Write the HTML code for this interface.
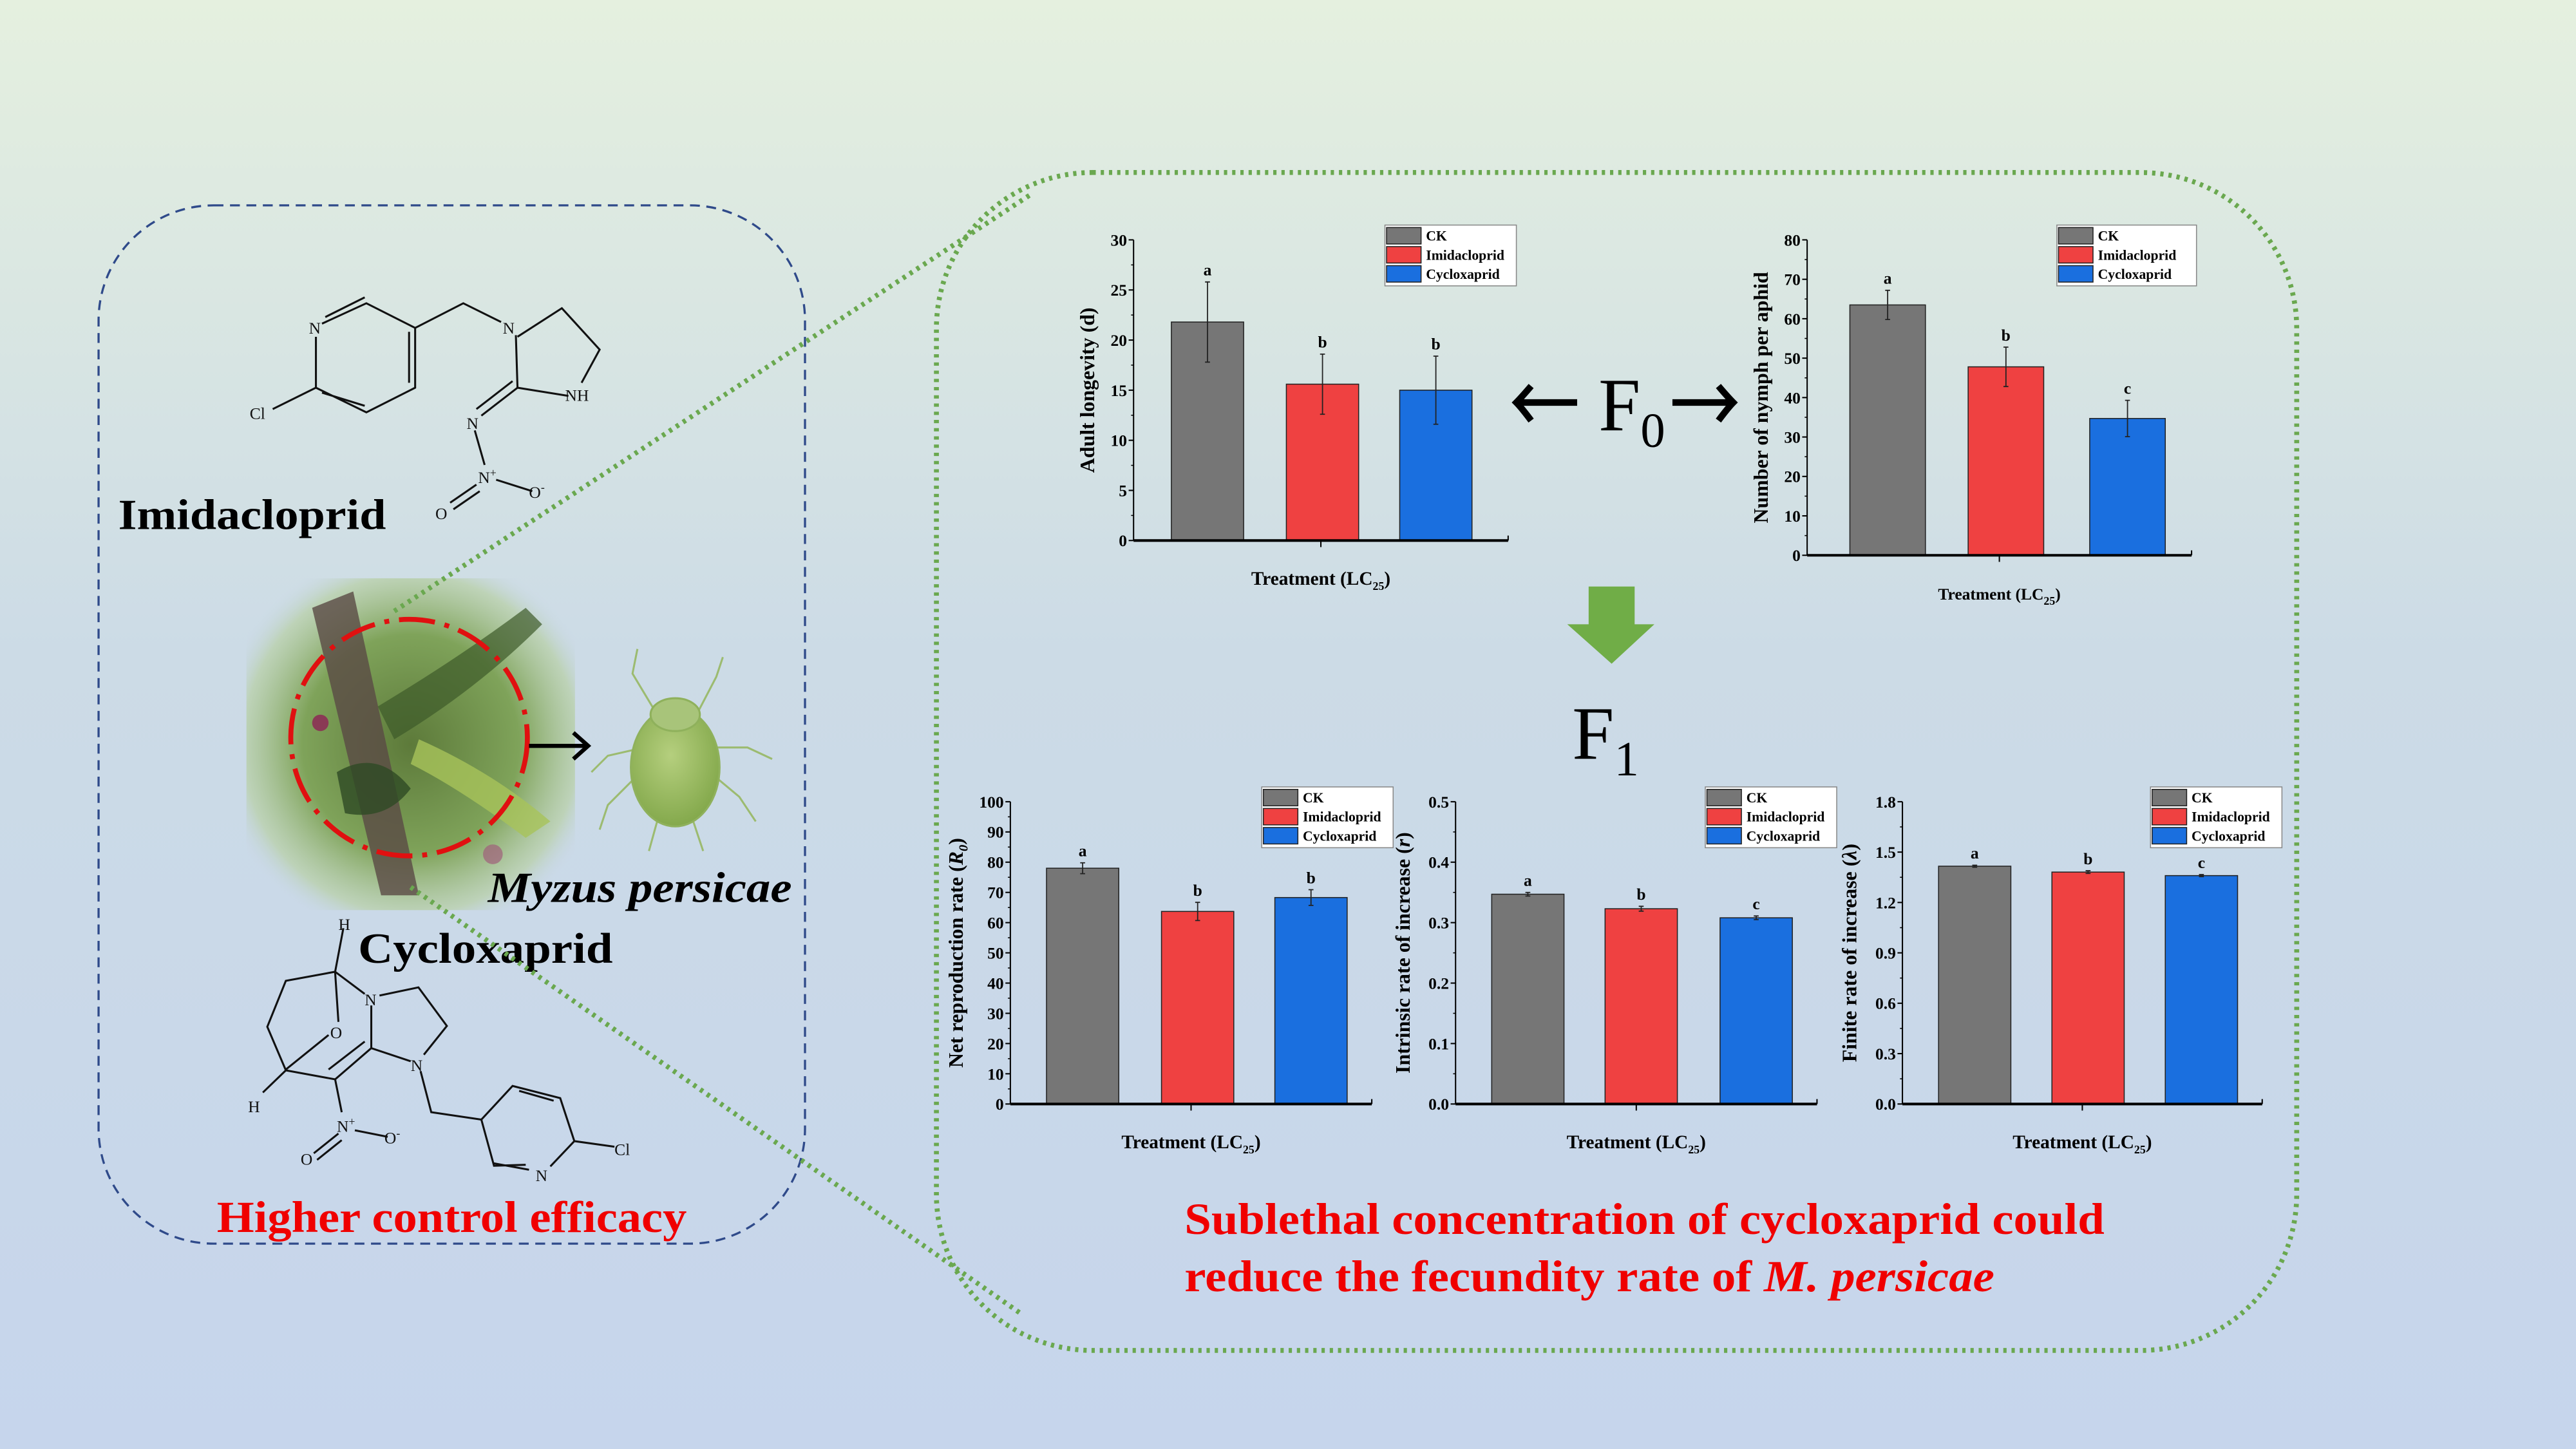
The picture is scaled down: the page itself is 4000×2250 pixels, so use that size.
<!DOCTYPE html>
<html><head><meta charset="utf-8"><style>
html,body{margin:0;padding:0;width:4000px;height:2250px;overflow:hidden}
svg{display:block}
text{font-family:"Liberation Serif",serif}
</style></head><body>
<svg id="root" width="4000" height="2250" viewBox="0 0 1568 882" preserveAspectRatio="none" xmlns="http://www.w3.org/2000/svg">
<defs>
<linearGradient id="bg" x1="0" y1="0" x2="0" y2="1">
<stop offset="0" stop-color="#e5f0df"/><stop offset="0.45" stop-color="#ccdbe6"/><stop offset="1" stop-color="#c6d5ec"/></linearGradient>
<radialGradient id="photo" cx="0.5" cy="0.5" r="0.6">
<stop offset="0" stop-color="#5d7a3a"/><stop offset="0.55" stop-color="#7fa35a"/><stop offset="0.85" stop-color="#b7cfa4" stop-opacity="0.7"/><stop offset="1" stop-color="#c8d6ea" stop-opacity="0"/></radialGradient>
<radialGradient id="aph" cx="0.45" cy="0.4" r="0.6"><stop offset="0" stop-color="#b5cf7e"/><stop offset="1" stop-color="#84a94c"/></radialGradient>
</defs>
<rect x="0" y="0" width="1568" height="882" fill="url(#bg)"/>

<g>
<rect x="60" y="125" width="430" height="632" rx="70" fill="none" stroke="#2f4a8a" stroke-width="1.3" stroke-dasharray="6,4"/>
<g stroke="#111" stroke-width="1.2" fill="none">
<path d="M196,197 L223,184.6 L252.7,199.6 L252.7,236 L223,251 L192.3,236 L192.3,205 M198,193 L222,181 M249,202 L249,233 M196,239 L222,247 M192.3,236 L166,249 M252.7,199.6 L282,184.6 L305,196 M314,204 L315,236 L346,241 M315,205 L342,187.6 L365,212.8 L354,233 M315,236 L293,253 M312,232 L290,249 M289,262 L295,283 M302,292 L324,299 M290,295 L274,306 M292,299 L276,310"/>
</g>
<g font-size="10" fill="#111" style="font-family:'Liberation Sans',sans-serif">
<text x="188" y="203">N</text><text x="152" y="255">Cl</text><text x="306" y="203">N</text><text x="344" y="244">NH</text><text x="284" y="261">N</text><text x="291" y="294">N<tspan font-size="7" dy="-4">+</tspan></text><text x="322" y="303">O<tspan font-size="7" dy="-4">-</tspan></text><text x="265" y="316">O</text>
</g>
<text x="72" y="322" font-size="26" font-weight="bold" textLength="163" lengthAdjust="spacingAndGlyphs" fill="#000">Imidacloprid</text>

<g>
<rect x="150" y="352" width="200" height="202" fill="url(#photo)"/>
<path d="M190,370 L232,545 L255,545 L215,360 Z" fill="#5a4a45" opacity="0.8"/>
<path d="M230,430 Q280,400 320,370 L330,380 Q290,420 240,450 Z" fill="#3d5a2a" opacity="0.7"/>
<path d="M255,450 Q300,470 335,500 L320,510 Q280,480 250,465 Z" fill="#a8c35a" opacity="0.8"/>
<path d="M205,470 Q230,455 250,480 Q235,500 210,495 Z" fill="#2e4a24" opacity="0.8"/>
<circle cx="195" cy="440" r="5" fill="#8a3a55"/><circle cx="300" cy="520" r="6" fill="#a0607a" opacity="0.7"/>
</g>
<circle cx="249" cy="449" r="72" fill="none" stroke="#e01010" stroke-width="3" stroke-dasharray="22,6,3,6"/>
<g stroke="#000" stroke-width="2.5" fill="none"><path d="M322,454 L357,454 M349,446 L358,454 L349,462"/></g>
<g stroke="#9cbb70" stroke-width="1.2" fill="none">
<path d="M400,435 L385,410 L388,395 M424,435 L436,412 L440,400 M390,470 L370,490 L365,505 M432,470 L450,485 L460,500 M392,455 L370,460 L360,470 M430,455 L455,455 L470,462 M400,500 L395,518 M422,500 L428,518"/>
<ellipse cx="411" cy="467" rx="27" ry="36" fill="url(#aph)" stroke="#8fb15c"/>
<ellipse cx="411" cy="435" rx="15" ry="10" fill="#a8c47a" stroke="#8fb15c"/>
</g>
<text x="297" y="549" font-size="26" font-weight="bold" font-style="italic" textLength="185" lengthAdjust="spacingAndGlyphs" fill="#000">Myzus persicae</text>
<text x="218" y="586" font-size="26" font-weight="bold" textLength="155" lengthAdjust="spacingAndGlyphs" fill="#000">Cycloxaprid</text>
<g stroke="#111" stroke-width="1.2" fill="none">
<path d="M209,565 L204,591.5 L174,597 L162.7,625 L174,651.5 L204,657 L226,638 L226,612 M204,591.5 L222,605 M204,592 L206,622 M200,630 L174,651 M231,606 L254.7,601 L272,624.5 L258,642 M226,638 L250,646 M222,634 L200,651 M174,651.5 L160,665 M204,657 L208,677 M216,688 L236,692 M206,690 L191,702 M208,694 L193,706 M256,652 L262.5,677 L293,681.5 L312,661 L341,668.4 L349.6,694.6 L335,710 M320,709 L300.7,709.6 L293,681.5 M300,708 L322,712 M316,664 L337,670 M349.6,694.6 L374,698"/>
</g>
<g font-size="10" fill="#111" style="font-family:'Liberation Sans',sans-serif">
<text x="206" y="566">H</text><text x="222" y="612">N</text><text x="201" y="632">O</text><text x="250" y="652">N</text><text x="151" y="677">H</text><text x="205" y="689">N<tspan font-size="7" dy="-4">+</tspan></text><text x="234" y="696">O<tspan font-size="7" dy="-4">-</tspan></text><text x="183" y="709">O</text><text x="326" y="719">N</text><text x="374" y="703">Cl</text>
</g>
<text x="132" y="750" font-size="27" font-weight="bold" textLength="286" lengthAdjust="spacingAndGlyphs" fill="#f00000">Higher control efficacy</text>
</g>

<g stroke="#6aa84f" stroke-width="3" stroke-dasharray="2,3" fill="none">
<path d="M240,372 L628,118"/><path d="M250,540 L622,800"/>
</g>
<rect x="570" y="105" width="828" height="717" rx="95" fill="none" stroke="#6aa84f" stroke-width="3" stroke-dasharray="2,3"/>

<g>
<path d="M925,245 L960,245 M932,235 Q926,242 923,245 Q926,248 932,256" stroke="#000" stroke-width="4" fill="none"/>
<text x="973" y="262" font-size="46" fill="#000">F<tspan font-size="30" dy="10">0</tspan></text>
<path d="M1018,245 L1053,245 M1046,235 Q1052,242 1055,245 Q1052,248 1046,256" stroke="#000" stroke-width="4" fill="none"/>
</g>
<path d="M967,357 L995,357 L995,380 L1007,380 L981,404 L954,380 L967,380 Z" fill="#70ad47"/>
<text x="957" y="462" font-size="46" fill="#000">F<tspan font-size="30" dy="10">1</tspan></text>

<g id="charts"></g>

<g font-weight="bold" font-size="27" fill="#f00000">
<text x="721" y="751" textLength="560" lengthAdjust="spacingAndGlyphs">Sublethal concentration of cycloxaprid could</text>
<text x="721" y="786" textLength="493" lengthAdjust="spacingAndGlyphs">reduce the fecundity rate of <tspan font-style="italic">M. persicae</tspan></text>
</g>
</svg>
<script>
const categories = ['CK','Imidacloprid','Cycloxaprid'];
const colors = ['#767676','#ef4141','#1a6fdf'];
const longevityValues = [21.8, 15.6, 15.0];
const longevityErrors = [4.0, 3.0, 3.4];
const longevityLetters = ['a','b','b'];
const longevityTicks = [0,5,10,15,20,25,30];
const nymphValues = [63.5, 47.8, 34.7];
const nymphErrors = [3.7, 5.0, 4.6];
const nymphLetters = ['a','b','c'];
const nymphTicks = [0,10,20,30,40,50,60,70,80];
const r0Values = [78.0, 63.7, 68.3];
const r0Errors = [1.8, 3.0, 2.6];
const r0Letters = ['a','b','b'];
const r0Ticks = [0,10,20,30,40,50,60,70,80,90,100];
const rValues = [0.347, 0.323, 0.308];
const rErrors = [0.003, 0.004, 0.003];
const rLetters = ['a','b','c'];
const rTicks = ['0.0','0.1','0.2','0.3','0.4','0.5'];
const lamValues = [1.416, 1.381, 1.360];
const lamErrors = [0.006, 0.008, 0.006];
const lamLetters = ['a','b','c'];
const lamTicks = ['0.0','0.3','0.6','0.9','1.2','1.5','1.8'];

const NS='http://www.w3.org/2000/svg';
const host=document.getElementById('charts');
function mk(tag,attrs,parent){const e=document.createElementNS(NS,tag);for(const k in attrs)e.setAttribute(k,attrs[k]);(parent||host).appendChild(e);return e;}

function chart(o){
  const g=mk('g',{});
  
  
  const ticks=o.ticks.map(Number);
  const ymax=ticks[ticks.length-1];
  const y=v=>o.y0-(v/ymax)*(o.y0-o.y1);
  const ax=mk('line',{x1:o.ax,y1:o.y0,x2:o.ax,y2:o.y1,stroke:'#000','stroke-width':0.8},g);
  
  
  o.ticks.forEach((t,i)=>{
    const yy=y(Number(t));
    mk('line',{x1:o.ax-3,y1:yy,x2:o.ax,y2:yy,stroke:'#000','stroke-width':0.8},g);
    if(i<o.ticks.length-1){const ym=y((Number(t)+Number(o.ticks[i+1]))/2);mk('line',{x1:o.ax-1.5,y1:ym,x2:o.ax,y2:ym,stroke:'#000','stroke-width':0.6},g);}
    const tl=mk('text',{x:o.ax-4,y:yy+3.5,'font-size':10,'font-weight':'bold','text-anchor':'end'},g);
    tl.textContent=t;
    
    
  });
  o.values.forEach((v,i)=>{
    const bx=o.bx[i];
    const b=mk('rect',{x:bx,y:y(v),width:o.bw,height:o.y0-y(v),fill:colors[i],stroke:'#222','stroke-width':0.6},g);
    
    
    const cx=bx+o.bw/2, ey1=y(v+o.errors[i]), ey2=y(v-o.errors[i]);
    const eb=mk('path',{d:`M${cx},${ey1}L${cx},${ey2}M${cx-1.5},${ey1}L${cx+1.5},${ey1}M${cx-1.5},${ey2}L${cx+1.5},${ey2}`,stroke:'#222','stroke-width':0.7,fill:'none'},g);
    
    
    const lt=mk('text',{x:cx,y:ey1-4,'font-size':10,'font-weight':'bold','text-anchor':'middle'},g);
    lt.textContent=o.letters[i];
    
    
  });
  const xa=mk('line',{x1:o.ax,y1:o.y0,x2:o.xend,y2:o.y0,stroke:'#000','stroke-width':1.6},g);
  
  
  const mid=(o.ax+o.xend)/2;
  mk('line',{x1:mid,y1:o.y0,x2:mid,y2:o.y0+4,stroke:'#000','stroke-width':0.8},g);
  mk('line',{x1:o.xend,y1:o.y0,x2:o.xend,y2:o.y0-3,stroke:'#000','stroke-width':0.8},g);
  const xt=mk('text',{x:mid,y:o.y0+27,'font-size':o.xfs,'font-weight':'bold','text-anchor':'middle'},g);
  xt.innerHTML='Treatment (LC<tspan font-size="7" dy="3">25</tspan><tspan dy="-3">)</tspan>';
  
  
  const yt=mk('text',{x:0,y:0,'font-size':o.yfs,'font-weight':'bold','text-anchor':'middle',transform:`translate(${o.ylx},${(o.y0+o.y1)/2}) rotate(-90)`},g);
  yt.innerHTML=o.ytitle;
  
  
  const lg=mk('g',{},g);
  
  
  mk('rect',{x:o.lx,y:o.ly,width:o.lw,height:37,fill:'#fff',stroke:'#888','stroke-width':0.6},lg);
  categories.forEach((c,i)=>{
    const e=mk('g',{},lg);
    
    
    mk('rect',{x:o.lx+1,y:o.ly+1.5+i*11.6,width:21,height:10,fill:colors[i],stroke:'#222','stroke-width':0.6},e);
    const t=mk('text',{x:o.lx+25,y:o.ly+9.5+i*11.6,'font-size':8.5,'font-weight':'bold'},e);
    t.textContent=c;
  });
}
chart({name:'chart-adult-longevity',values:longevityValues,errors:longevityErrors,letters:longevityLetters,ticks:longevityTicks,
  ax:690,y0:329,y1:146,bx:[713,783,852],bw:44,xend:918,lx:843,ly:137,lw:80,ylx:666,yfs:12.5,xfs:11.5,ytitle:'Adult longevity (d)'});
chart({name:'chart-nymphs-per-aphid',values:nymphValues,errors:nymphErrors,letters:nymphLetters,ticks:nymphTicks,
  ax:1100,y0:338,y1:146,bx:[1126,1198,1272],bw:46,xend:1334,lx:1252,ly:137,lw:85,ylx:1076,yfs:12.5,xfs:10,ytitle:'Number of nymph per aphid'});
chart({name:'chart-net-reproduction-rate',values:r0Values,errors:r0Errors,letters:r0Letters,ticks:r0Ticks,
  ax:615,y0:672,y1:488,bx:[637,707,776],bw:44,xend:835,lx:768,ly:479,lw:80,ylx:586,yfs:12.5,xfs:11.5,ytitle:'Net reproduction rate (<tspan font-style="italic">R</tspan><tspan font-size="8" dy="3" font-style="italic">0</tspan><tspan dy="-3">)</tspan>'});
chart({name:'chart-intrinsic-rate',values:rValues,errors:rErrors,letters:rLetters,ticks:rTicks,
  ax:886,y0:672,y1:488,bx:[908,977,1047],bw:44,xend:1106,lx:1038,ly:479,lw:80,ylx:858,yfs:12.5,xfs:11.5,ytitle:'Intrinsic rate of increase (<tspan font-style="italic">r</tspan>)'});
chart({name:'chart-finite-rate',values:lamValues,errors:lamErrors,letters:lamLetters,ticks:lamTicks,
  ax:1158,y0:672,y1:488,bx:[1180,1249,1318],bw:44,xend:1377,lx:1309,ly:479,lw:80,ylx:1130,yfs:12.5,xfs:11.5,ytitle:'Finite rate of increase (<tspan font-style="italic">λ</tspan>)'});
</script>
</body></html>
